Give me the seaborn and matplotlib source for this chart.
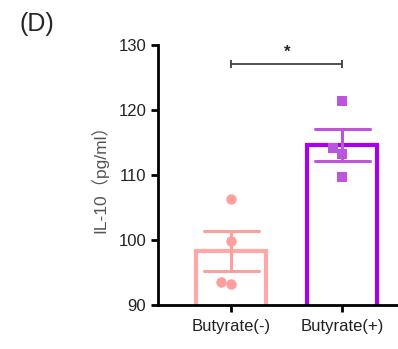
import matplotlib
matplotlib.use("Agg")
import matplotlib.pyplot as plt
import pandas as pd
import seaborn as sns

# Data
groups = ["Butyrate(-)", "Butyrate(+)"]
neg_values = [106.3, 99.9, 93.6, 93.2]
pos_values = [121.4, 114.1, 113.2, 109.7]
y_ticks = [90, 100, 110, 120, 130]

bar_colors = ["#FFA8A8", "#A800E8"]
point_colors = ["#FF9E9E", "#BC55DC"]

df = pd.DataFrame({
    "group": [groups[0]] * len(neg_values) + [groups[1]] * len(pos_values),
    "value": neg_values + pos_values,
})

sns.set_style("white")
plt.rcParams["font.family"] = ["Liberation Sans", "Noto Sans CJK SC"]

fig = plt.figure(figsize=(3.98, 3.49), dpi=100)
ax = fig.add_axes([0.397, 0.126, 0.603, 0.745])

# open bars
sns.barplot(ax=ax, data=df, x="group", y="value", hue="group", order=groups,
            hue_order=groups, palette=bar_colors, fill=False, errorbar=None,
            width=0.63, linewidth=3, legend=False)

# mean +/- SEM
sns.pointplot(ax=ax, data=df, x="group", y="value", hue="group", order=groups,
              hue_order=groups, palette=point_colors, errorbar="se", capsize=0.5,
              markers="", linestyle="none", err_kws={"linewidth": 2.2},
              legend=False, dodge=False)

# individual points
sns.swarmplot(ax=ax, data=df[df["group"] == groups[0]], x="group", y="value",
              order=groups, color=point_colors[0], marker="o", size=7.5)
sns.swarmplot(ax=ax, data=df[df["group"] == groups[1]], x="group", y="value",
              order=groups, color=point_colors[1], marker="s", size=7.5)

ax.set_ylim(90, 130)
ax.set_yticks(y_ticks)
ax.set_xlim(-0.66, 1.5)
ax.set_xlabel("")
ax.set_ylabel("IL-10（pg/ml）", fontsize=12.5, color="#555555", labelpad=7)

for side in ["top", "right"]:
    ax.spines[side].set_visible(False)
for side in ["left", "bottom"]:
    ax.spines[side].set_linewidth(2)
    ax.spines[side].set_color("black")
ax.tick_params(axis="both", direction="out", length=5, width=2, color="black",
               labelsize=12, labelcolor="#222222", left=True, bottom=True)
ax.tick_params(axis="x", pad=5)

# significance bracket
ax.plot([0, 1], [127.1, 127.1], color="#444444", linewidth=1.3, marker="|",
        markersize=6, markeredgewidth=1.3, clip_on=False)
ax.text(0.5, 127.7, "*", ha="center", va="bottom", fontsize=12, fontweight="bold")

fig.text(0.05, 0.932, "(D)", fontsize=18, ha="left", va="center")

fig.savefig("out.png", dpi=100)
